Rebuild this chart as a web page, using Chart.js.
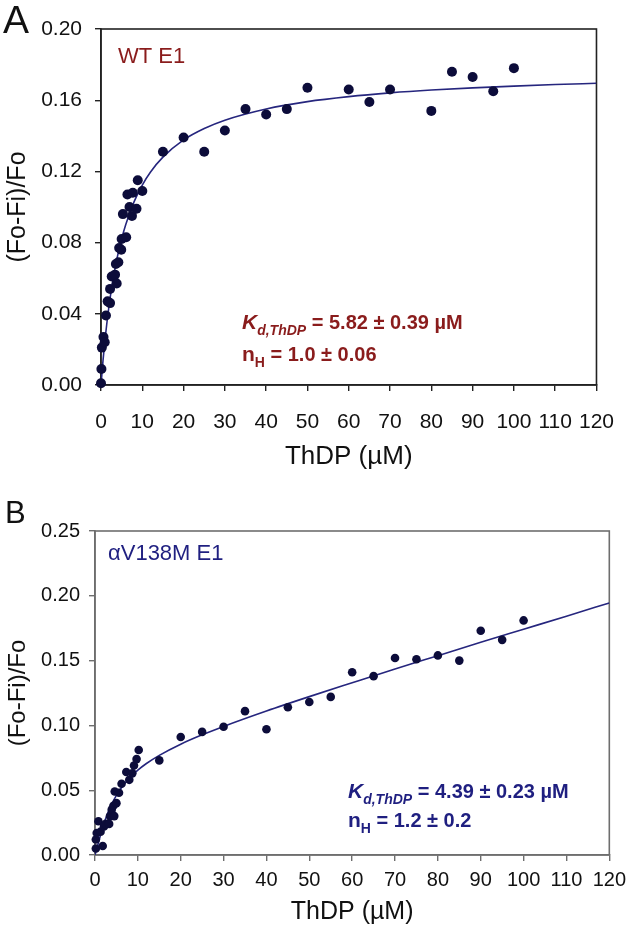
<!DOCTYPE html>
<html><head><meta charset="utf-8">
<script src="https://cdn.jsdelivr.net/npm/chart.js@4.4.1/dist/chart.umd.min.js"></script>
<style>
html,body{margin:0;padding:0;background:#fff;}
#wrap{position:relative;width:633px;height:932px;overflow:hidden;}
canvas{position:absolute;left:0;top:0;}
</style></head><body>
<div id="wrap"><canvas id="cA" width="633" height="932"></canvas><canvas id="cB" width="633" height="932"></canvas></div>
<script>
// ---------- data ----------
const xTicks = [0,10,20,30,40,50,60,70,80,90,100,110,120];
const xTickLabels = ['0','10','20','30','40','50','60','70','80','90','100','110','120'];

const aYTicks = [0,0.04,0.08,0.12,0.16,0.20];
const aYTickLabels = ['0.00','0.04','0.08','0.12','0.16','0.20'];
const bYTicks = [0,0.05,0.10,0.15,0.20,0.25];
const bYTickLabels = ['0.00','0.05','0.10','0.15','0.20','0.25'];

// Panel A: WT E1 measured points
const aX = [0,0.1,0.2,0.6,0.9,1.2,1.6,2.2,2.2,2.6,3.4,3.8,3.6,4.2,4.4,4.9,5.0,6.1,5.3,6.9,7.5,6.4,7.7,8.6,8.9,10.0,15,20,25,30,35,40,45,50,60,65,70,80,85,90,95,100];
const aY = [0.001,0.009,0.021,0.027,0.024,0.039,0.047,0.046,0.054,0.061,0.062,0.057,0.068,0.069,0.077,0.076,0.082,0.083,0.096,0.100,0.095,0.107,0.108,0.099,0.115,0.109,0.131,0.139,0.131,0.143,0.155,0.152,0.155,0.167,0.166,0.159,0.166,0.154,0.176,0.173,0.165,0.178];
// Panel A: fitted curve
const aFitX = [0,0.5,1,2,3,4,5,6,8,10,12,15,20,25,30,40,50,60,70,80,90,100,110,120];
const aFitY = [0,0.0141,0.0261,0.0455,0.0604,0.0724,0.0821,0.0902,0.1029,0.1123,0.1197,0.1280,0.1377,0.1441,0.1488,0.1551,0.1592,0.1620,0.1641,0.1657,0.1669,0.1679,0.1688,0.1695];

// Panel B: alphaV138M E1 measured points
const bX = [0.2,0.2,0.4,0.8,1.8,1.3,2.1,2.5,3.3,3.5,3.9,4.5,4.3,5.0,4.6,5.6,6.2,7.3,8.0,8.7,9.1,9.7,10.2,15,20,25,30,35,40,45,50,55,60,65,70,75,80,85,90,95,100];
const bY = [0.005,0.012,0.017,0.026,0.007,0.018,0.022,0.024,0.024,0.030,0.035,0.030,0.038,0.040,0.049,0.048,0.055,0.064,0.058,0.063,0.069,0.074,0.081,0.073,0.091,0.095,0.099,0.111,0.097,0.114,0.118,0.122,0.141,0.138,0.152,0.151,0.154,0.150,0.173,0.166,0.181];
// Panel B: fitted curve
const bFitX = [0,0.5,1,2,3,4,5,6,8,10,12,15,20,25,30,40,50,60,70,80,90,100,110,120];
const bFitY = [0,0.0057,0.0120,0.0233,0.0325,0.0399,0.0460,0.0511,0.0592,0.0655,0.0706,0.0769,0.0855,0.0927,0.0992,0.1111,0.1222,0.1329,0.1435,0.1538,0.1641,0.1742,0.1843,0.1945];

// ---------- helpers ----------
const FAM = '"Liberation Sans", Arial, Helvetica, sans-serif';
const pts = (xs, ys) => xs.map((x,i)=>({x:x, y:ys[i]}));

function drawRich(ctx, x, y, segs, color){
  ctx.save();
  ctx.fillStyle = color;
  ctx.textBaseline = 'alphabetic';
  ctx.textAlign = 'left';
  let cx = x;
  for (const s of segs){
    ctx.font = s.font;
    ctx.fillText(s.t, cx, y + (s.dy||0));
    cx += ctx.measureText(s.t).width;
  }
  ctx.restore();
}

function makeChart(id, cfg){
  const frame = {
    id:'frame',
    beforeDatasetsDraw(chart){
      const {ctx, chartArea:a} = chart;
      ctx.save();
      ctx.strokeStyle = cfg.frameColor;
      ctx.lineWidth = 1.6;
      ctx.strokeRect(a.left, a.top, a.right-a.left, a.bottom-a.top);
      ctx.restore();
    },
    afterDraw(chart){
      cfg.texts(chart.ctx, chart);
    }
  };
  return new Chart(document.getElementById(id), {
    type:'scatter',
    data:{datasets:[
      {data: pts(cfg.x, cfg.y), pointRadius: cfg.r, pointHoverRadius: cfg.r, pointBackgroundColor:'#0c0c3a', pointBorderWidth:0, showLine:false, clip:false},
      {data: pts(cfg.fx, cfg.fy), showLine:true, pointRadius:0, borderColor:'#26267e', borderWidth:1.6, cubicInterpolationMode:'monotone', fill:false}
    ]},
    options:{
      responsive:false, animation:false, events:[],
      layout:{padding:cfg.pad},
      plugins:{legend:{display:false}, tooltip:{enabled:false}},
      scales:{
        x:{type:'linear', min:0, max:120,
          afterBuildTicks: s => { s.ticks = xTicks.map(v=>({value:v})); },
          afterFit: s => { s.height = cfg.xH; },
          ticks:{callback:(v,i)=>xTickLabels[i], color:'#111', font:{family:FAM, size:cfg.tickSize}, padding:cfg.xPad, maxRotation:0, autoSkip:false},
          grid:{drawOnChartArea:false, drawTicks:true, tickLength:6, color:cfg.frameColor, lineWidth:1.4},
          border:{display:true, color:cfg.frameColor, width:1.6},
          title:{display:true, text:'ThDP (\u00B5M)', color:'#111', font:{family:FAM, size:cfg.xTitleSize, lineHeight:1}, padding:{top:0,bottom:cfg.xTitlePad}}
        },
        y:{type:'linear', min:0, max:cfg.yMax,
          afterBuildTicks: s => { s.ticks = cfg.yTicks.map(v=>({value:v})); },
          afterFit: s => { s.width = cfg.yW; },
          ticks:{callback:(v,i)=>cfg.yLabels[i], color:'#111', font:{family:FAM, size:cfg.tickSize}, padding:cfg.yPad, autoSkip:false},
          grid:{drawOnChartArea:false, drawTicks:true, tickLength:6, color:cfg.frameColor, lineWidth:1.4},
          border:{display:true, color:cfg.frameColor, width:1.6},
          title:{display:true, text:'(Fo-Fi)/Fo', color:'#111', font:{family:FAM, size:cfg.yTitleSize, lineHeight:1}, padding:{top:6,bottom:0}}
        }
      }
    },
    plugins:[frame]
  });
}

const RED = '#8a1c1c';
const NAVY = '#1f1f80';

makeChart('cA', {
  x:aX, y:aY, fx:aFitX, fy:aFitY, r:5,
  frameColor:'#222', pad:{left:0, top:29, right:22, bottom:462},
  xH:85, yW:101, yMax:0.2, yTicks:aYTicks, yLabels:aYTickLabels,
  tickSize:21, xPad:19, yPad:13, xTitleSize:26, xTitlePad:0, yTitleSize:25,
  texts(ctx){
    drawRich(ctx, 3, 33, [{t:'A', font:'39px '+FAM}], '#111');
    drawRich(ctx, 118, 63, [{t:'WT E1', font:'22px '+FAM}], RED);
    drawRich(ctx, 242, 329, [
      {t:'K', font:'italic bold 21px '+FAM},
      {t:'d,ThDP', font:'italic bold 14px '+FAM, dy:6},
      {t:' = 5.82 \u00B1 0.39 \u00B5M', font:'bold 20px '+FAM}
    ], RED);
    drawRich(ctx, 242, 361, [
      {t:'n', font:'bold 21px '+FAM},
      {t:'H', font:'bold 14px '+FAM, dy:6},
      {t:' = 1.0 \u00B1 0.06', font:'bold 20px '+FAM}
    ], RED);
  }
});

makeChart('cB', {
  x:bX, y:bY, fx:bFitX, fy:bFitY, r:4.3,
  frameColor:'#6e6e6e', pad:{left:0, top:531, right:20, bottom:0},
  xH:77, yW:95, yMax:0.25, yTicks:bYTicks, yLabels:bYTickLabels,
  tickSize:20, xPad:7, yPad:9, xTitleSize:25, xTitlePad:7, yTitleSize:24,
  texts(ctx){
    drawRich(ctx, 5, 523, [{t:'B', font:'31px '+FAM}], '#111');
    drawRich(ctx, 108, 560, [{t:'\u03B1V138M E1', font:'22px '+FAM}], NAVY);
    drawRich(ctx, 348, 798, [
      {t:'K', font:'italic bold 21px '+FAM},
      {t:'d,ThDP', font:'italic bold 14px '+FAM, dy:6},
      {t:' = 4.39 \u00B1 0.23 \u00B5M', font:'bold 20px '+FAM}
    ], NAVY);
    drawRich(ctx, 348, 827, [
      {t:'n', font:'bold 21px '+FAM},
      {t:'H', font:'bold 14px '+FAM, dy:6},
      {t:' = 1.2 \u00B1 0.2', font:'bold 20px '+FAM}
    ], NAVY);
  }
});
</script>
</body></html>
